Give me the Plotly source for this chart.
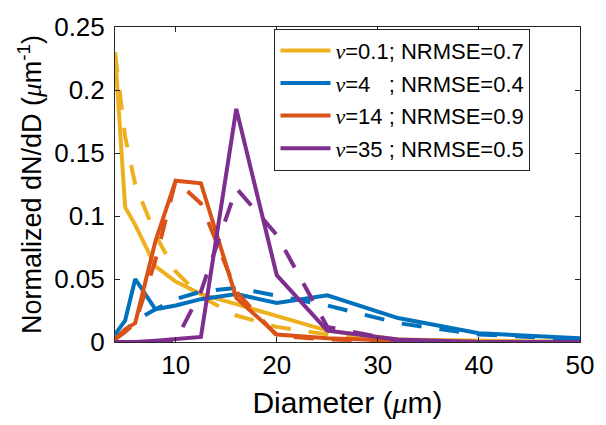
import plotly.graph_objects as go

diameter = [4, 5, 6, 8, 10, 12.5, 16, 20, 25, 32, 40, 50]

nu01_meas = [0.230, 0.107, 0.093, 0.060, 0.048, 0.038, 0.030, 0.021, 0.009, 0.002, 0.001, 0.0]
nu01_fit = [0.230, 0.163, 0.125, 0.085, 0.056, 0.036, 0.021, 0.012, 0.006, 0.002, 0.0005, 0.0]
nu4_meas = [0.006, 0.017, 0.050, 0.026, 0.029, 0.034, 0.038, 0.031, 0.037, 0.019, 0.007, 0.003]
nu4_fit = [0.003, 0.009, 0.017, 0.026, 0.034, 0.040, 0.043, 0.037, 0.029, 0.015, 0.006, 0.002]
nu14_meas = [0.002, 0.010, 0.015, 0.080, 0.128, 0.126, 0.035, 0.006, 0.003, 0.001, 0.0, 0.0]
nu14_fit = [0.002, 0.008, 0.015, 0.065, 0.128, 0.110, 0.040, 0.005, 0.002, 0.0005, 0.0, 0.0]
nu35_meas = [0.0, 0.0, 0.0, 0.001, 0.002, 0.004, 0.185, 0.053, 0.009, 0.002, 0.0, 0.0]
nu35_fit = [0.0, 0.0, 0.0, 0.0, 0.001, 0.040, 0.122, 0.085, 0.012, 0.001, 0.0, 0.0]

labels = ["\u03bd=0.1; NRMSE=0.7",
          "\u03bd=4\u00a0\u00a0\u00a0; NRMSE=0.4",
          "\u03bd=14 ; NRMSE=0.9",
          "\u03bd=35 ; NRMSE=0.5"]
colors = ["#EDB120", "#0072BD", "#D95319", "#7E2F8E"]

x_ticks = [10, 20, 30, 40, 50]
y_ticks = [0, 0.05, 0.1, 0.15, 0.2, 0.25]
y_ticktext = ["0", "0.05", "0.1", "0.15", "0.2", "0.25"]

measured = [nu01_meas, nu4_meas, nu14_meas, nu35_meas]
fitted = [nu01_fit, nu4_fit, nu14_fit, nu35_fit]

FONT = "Liberation Sans, Arial, Helvetica, sans-serif"
SERIF = "'Liberation Serif', 'Times New Roman', serif"

def fmt_label(s):
    return s.replace("\u03bd", "<span style=\"font-family:%s\"><i>\u03bd</i></span>" % SERIF, 1)

fig = go.Figure()
for i in range(4):
    fig.add_trace(go.Scatter(
        x=diameter, y=measured[i], mode="lines",
        line=dict(color=colors[i], width=4),
        name=fmt_label(labels[i]), legendgroup="g%d" % i,
    ))
    fig.add_trace(go.Scatter(
        x=diameter, y=fitted[i], mode="lines",
        line=dict(color=colors[i], width=4, dash="20px,18px"),
        showlegend=False, legendgroup="g%d" % i,
    ))

axis_common = dict(
    showline=True, linecolor="#262626", linewidth=1, mirror="ticks",
    ticks="inside", ticklen=5, tickcolor="#262626", tickwidth=1,
    showgrid=False, zeroline=False,
    tickfont=dict(family=FONT, size=26, color="#000000"),
)

fig.update_layout(
    width=606, height=425,
    margin=dict(l=115, r=16, t=16, b=83),
    paper_bgcolor="white", plot_bgcolor="white",
    font=dict(family=FONT, color="#000000"),
    xaxis=dict(range=[4, 50], tickvals=x_ticks,
               title=dict(text="Diameter (<span style=\"font-family:%s\"><i>\u03bc</i></span>m)" % SERIF,
                          font=dict(family=FONT, size=30), standoff=12),
               **axis_common),
    yaxis=dict(range=[0, 0.25], tickvals=y_ticks, ticktext=y_ticktext,
               ticklabelstandoff=4,
               title=dict(text="Normalized dN/dD (<span style=\"font-family:%s\"><i>\u03bc</i></span>m<sup>-1</sup>)" % SERIF,
                          font=dict(family=FONT, size=27), standoff=4),
               **axis_common),
    showlegend=True,
    legend=dict(x=0.343, y=0.995, xanchor="left", yanchor="top",
                bgcolor="white", bordercolor="#262626", borderwidth=1,
                font=dict(family=FONT, size=22, color="#000000"),
                itemwidth=50, traceorder="grouped", tracegroupgap=1),
)

fig.write_html("out.html")
